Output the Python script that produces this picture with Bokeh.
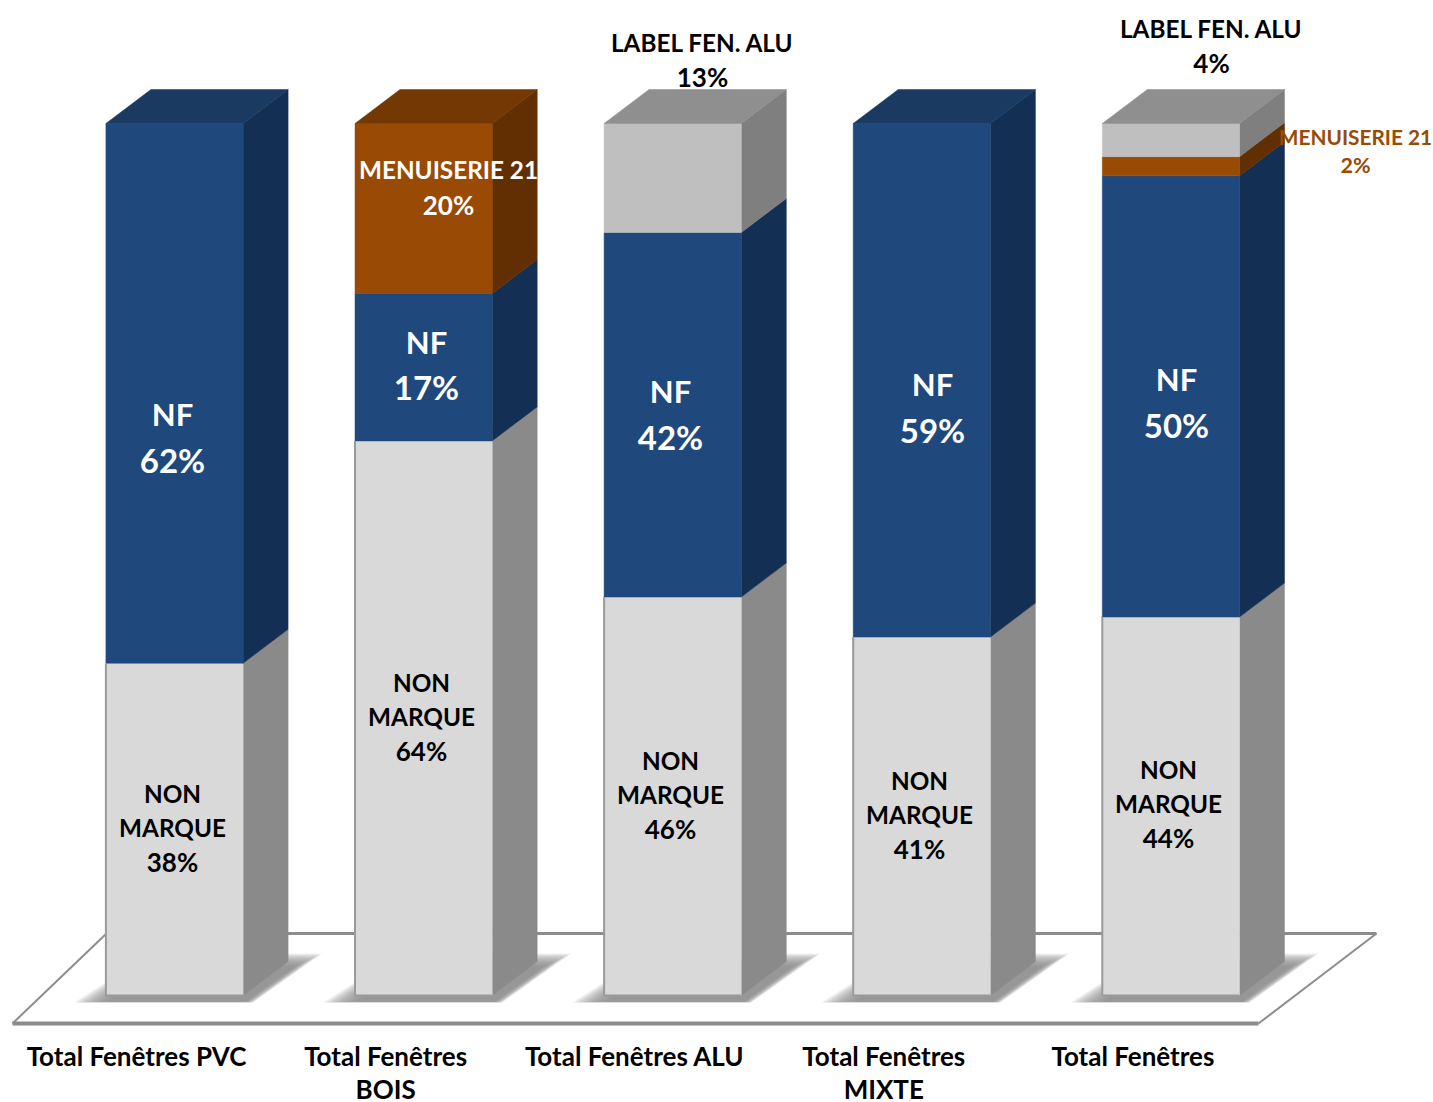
from bokeh.plotting import figure
from bokeh.models import Range1d, FixedTicker
from bokeh.embed import file_html
from bokeh.resources import INLINE
from bokeh.core.properties import value

# ---- data ----
categories = ["Total Fenêtres PVC", "Total Fenêtres\nBOIS", "Total Fenêtres ALU", "Total Fenêtres\nMIXTE", "Total Fenêtres"]
non_marque = [38.1, 63.6, 45.7, 41.1, 43.4]
nf = [61.9, 16.9, 41.8, 58.9, 50.6]
menuiserie = [0.0, 19.5, 0.0, 0.0, 2.2]
label_alu = [0.0, 0.0, 12.5, 0.0, 3.8]
series_names = ["NON MARQUE", "NF", "MENUISERIE 21", "LABEL FEN. ALU"]
series_values = [non_marque, nf, menuiserie, label_alu]
label_texts = [
    ["NON", "MARQUE", "38%"], ["NF", "62%"],
    ["NON", "MARQUE", "64%"], ["NF", "17%"], ["MENUISERIE 21", "20%"],
    ["NON", "MARQUE", "46%"], ["NF", "42%"], ["LABEL FEN. ALU", "13%"],
    ["NON", "MARQUE", "41%"], ["NF", "59%"],
    ["NON", "MARQUE", "44%"], ["NF", "50%"], ["MENUISERIE 21", "2%"], ["LABEL FEN. ALU", "4%"],
]

# ---- styling / layout ----
front = ["#d9d9d9", "#1f497d", "#994a05", "#bfbfbf"]
side = ["#8a8a8a", "#142f54", "#622f03", "#7f7f7f"]
top = ["#8f8f8f", "#1a3a62", "#733804", "#8f8f8f"]

W = 1433
FRAME_H = 1031
PX_STEP = 249.1       # pixels between categories
PX_LABEL0 = 136.0     # image x of the first tick label
PX_Y0 = 995.0         # image y of the 0 % line
PX_PCT = 8.72         # pixels per percent
BAR_OFF = 38.0 / PX_STEP
BAR_HALF = 68.6 / PX_STEP
DX = 45 / PX_STEP
DY = 34 / PX_PCT
TXT_SHIFT = 1.7       # text baseline correction, pixels


def X(px):
    return (px - PX_LABEL0) / PX_STEP


def Y(py):
    return (PX_Y0 - py) / PX_PCT


p = figure(width=W, height=1102, frame_width=W, frame_height=FRAME_H,
           output_backend="svg", toolbar_location=None,
           x_range=Range1d(X(0), X(W)), y_range=Range1d(Y(FRAME_H), Y(0)),
           min_border_left=0, min_border_right=0, min_border_top=0, min_border_bottom=0,
           outline_line_color=None, background_fill_color="white", border_fill_color="white")
p.grid.visible = False
p.yaxis.visible = False
ax = p.xaxis[0]
ax.ticker = FixedTicker(ticks=list(range(len(categories))))
ax.major_label_overrides = {i: c for i, c in enumerate(categories)}
ax.axis_line_color = None
ax.major_tick_line_color = None
ax.minor_tick_line_color = None
ax.major_label_text_font = "Lato"
ax.major_label_text_font_style = "bold"
ax.major_label_text_font_size = "26px"
ax.major_label_text_color = "#000000"
ax.major_label_text_line_height = 1.05
ax.major_label_standoff = 2

# floor
floor_x = [X(12), X(1258), X(1376), X(106)]
floor_y = [Y(1023), Y(1023), Y(933), Y(933)]
p.line([floor_x[0], floor_x[1]], [floor_y[0], floor_y[1]], line_color="#8c8c8c", line_width=4)
p.line([floor_x[1], floor_x[2]], [floor_y[1], floor_y[2]], line_color="#8c8c8c", line_width=2)
p.line([floor_x[2], floor_x[3]], [floor_y[2], floor_y[3]], line_color="#8c8c8c", line_width=3)
p.line([floor_x[3], floor_x[0]], [floor_y[3], floor_y[0]], line_color="#8c8c8c", line_width=2)

# soft shadows under the bars
n_layers = 18
for i in range(len(categories)):
    cx = i + BAR_OFF
    l = cx - BAR_HALF
    r = cx + BAR_HALF
    for k in range(n_layers):
        t = k / (n_layers - 1)
        sx = [l - 32 / PX_STEP + 36 * t / PX_STEP,
              r + 10 / PX_STEP - 8 * t / PX_STEP,
              r + DX + 34 / PX_STEP - 28 * t / PX_STEP,
              l + DX]
        sy = [Y(1002) + 0.1 * t, Y(1002) + 0.1 * t, Y(953) - 1.5 * t, Y(953) - 1.5 * t]
        p.patch(sx, sy, fill_color="#8c8c8c", fill_alpha=0.10, line_color=None)

# bars
for i in range(len(categories)):
    cx = i + BAR_OFF
    l = cx - BAR_HALF
    r = cx + BAR_HALF
    base = 0.0
    last = 0
    for s, vals in enumerate(series_values):
        v = vals[i]
        if v <= 0:
            continue
        t = base + v
        p.patch([r, r + DX, r + DX, r], [base, base + DY, t + DY, t], fill_color=side[s], line_color=side[s], line_width=0.5)
        p.quad(left=[l], right=[r], bottom=[base], top=[t], fill_color=front[s], line_color=front[s], line_width=0.5)
        base = t
        last = s
    p.patch([l, l + DX, r + DX, r], [base, base + DY, base + DY, base], fill_color=top[last], line_color=top[last], line_width=0.5)
    # thin outline on the light base
    b = non_marque[i]
    p.line([l, l, r], [b, 0, 0], line_color="#9a9a9a", line_width=2)

# data labels: each line is placed by its image centre; (caps size, digits size)
W_TXT, B_TXT, O_TXT = "#ffffff", "#000000", "#994a05"
placements = [
    (172, [795, 829, 863], (24.3, 26), B_TXT), (172, [415, 461], (31, 33), W_TXT),
    (421, [684, 718, 752], (24.3, 26), B_TXT), (426, [343, 388], (31, 33), W_TXT), (448, [171, 206], (24.3, 26), W_TXT),
    (670, [762, 796, 830], (24.3, 26), B_TXT), (670, [392, 438], (31, 33), W_TXT), (702, [44, 78], (24.3, 26), B_TXT),
    (919, [782, 816, 850], (24.3, 26), B_TXT), (932, [385, 431], (31, 33), W_TXT),
    (1168, [771, 805, 839], (24.3, 26), B_TXT), (1176, [380, 426], (31, 33), W_TXT), (1355, [138, 166], (20.8, 21.5), O_TXT), (1211, [30, 64], (24.3, 26), B_TXT),
]
for lines, (px, pys, sizes, col) in zip(label_texts, placements):
    for txt, py in zip(lines, pys):
        size = sizes[1] if "%" in txt else sizes[0]
        p.text([X(px)], [Y(py - TXT_SHIFT)], text=[txt], text_align="center", text_baseline="middle",
               text_font=value("Lato"), text_font_style="bold", text_font_size=f"{size}px", text_color=col)

open("out.html", "w").write(file_html(p, INLINE))
